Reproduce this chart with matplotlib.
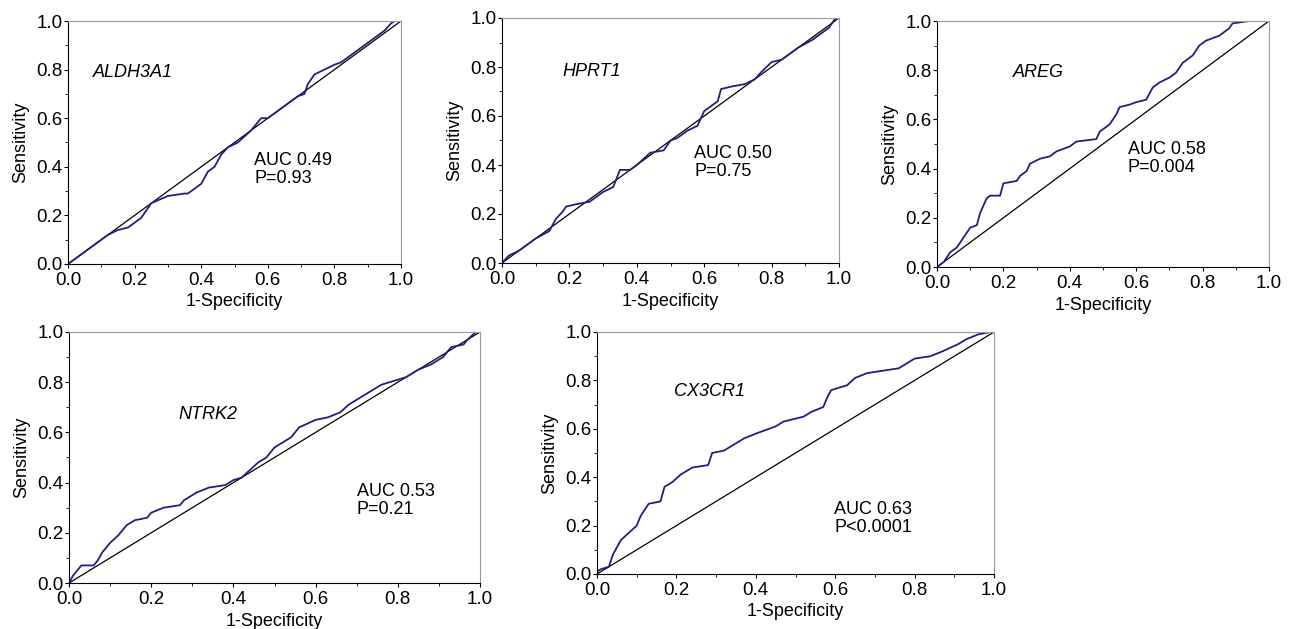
import matplotlib
matplotlib.use("Agg")
import matplotlib.pyplot as plt
from matplotlib.ticker import MultipleLocator

plt.rcParams['font.family'] = ['Liberation Sans', 'DejaVu Sans']

# ROC curves (1-specificity, sensitivity)
aldh_fpr = [0, 0.02, 0.05, 0.08, 0.1, 0.12, 0.15, 0.18, 0.2, 0.22, 0.25, 0.3, 0.35, 0.36, 0.38, 0.4,
            0.42, 0.44, 0.46, 0.48, 0.51, 0.55, 0.58, 0.6, 0.63, 0.66, 0.69, 0.71, 0.72, 0.74,
            0.77, 0.8, 0.82, 0.84, 0.87, 0.9, 0.93, 0.95, 0.97, 0.98, 1.0]
aldh_tpr = [0, 0.02, 0.05, 0.08, 0.1, 0.12, 0.14, 0.15, 0.17, 0.19, 0.25, 0.28, 0.29, 0.29, 0.31, 0.33,
            0.38, 0.40, 0.45, 0.48, 0.50, 0.55, 0.60, 0.60, 0.63, 0.66, 0.69, 0.70, 0.74, 0.78,
            0.80, 0.82, 0.83, 0.85, 0.88, 0.91, 0.94, 0.96, 0.99, 1.0, 1.0]

hprt_fpr = [0, 0.02, 0.05, 0.1, 0.14, 0.16, 0.18, 0.19, 0.22, 0.26, 0.3, 0.33, 0.35, 0.38, 0.4,
            0.44, 0.48, 0.5, 0.52, 0.55, 0.58, 0.6, 0.62, 0.64, 0.65, 0.68, 0.72, 0.75, 0.77,
            0.8, 0.83, 0.85, 0.88, 0.92, 0.95, 0.97, 0.99, 1.0]
hprt_tpr = [0, 0.03, 0.05, 0.1, 0.13, 0.18, 0.21, 0.23, 0.24, 0.25, 0.29, 0.31, 0.38, 0.38, 0.40,
            0.45, 0.46, 0.50, 0.51, 0.54, 0.56, 0.62, 0.64, 0.66, 0.71, 0.72, 0.73, 0.75, 0.78,
            0.82, 0.83, 0.85, 0.88, 0.91, 0.94, 0.96, 1.0, 1.0]

areg_fpr = [0, 0.02, 0.04, 0.06, 0.08, 0.1, 0.12, 0.13, 0.15, 0.16, 0.19, 0.2, 0.24, 0.25, 0.27,
            0.28, 0.31, 0.34, 0.36, 0.4, 0.42, 0.48, 0.49, 0.52, 0.54, 0.55, 0.58, 0.6, 0.63,
            0.65, 0.67, 0.7, 0.72, 0.74, 0.77, 0.79, 0.81, 0.85, 0.88, 0.89, 0.94, 1.0]
areg_tpr = [0, 0.02, 0.06, 0.08, 0.12, 0.16, 0.17, 0.22, 0.28, 0.29, 0.29, 0.34, 0.35, 0.37, 0.39,
            0.42, 0.44, 0.45, 0.47, 0.49, 0.51, 0.52, 0.55, 0.58, 0.62, 0.65, 0.66, 0.67, 0.68,
            0.73, 0.75, 0.77, 0.79, 0.83, 0.86, 0.90, 0.92, 0.94, 0.97, 0.99, 1.0, 1.0]

ntrk_fpr = [0, 0.01, 0.03, 0.06, 0.07, 0.08, 0.1, 0.12, 0.14, 0.16, 0.19, 0.2, 0.23, 0.27, 0.28,
            0.31, 0.34, 0.38, 0.4, 0.42, 0.44, 0.46, 0.48, 0.5, 0.54, 0.56, 0.6, 0.63, 0.66,
            0.68, 0.7, 0.73, 0.76, 0.8, 0.82, 0.85, 0.88, 0.91, 0.93, 0.96, 0.97, 0.99, 1.0]
ntrk_tpr = [0, 0.03, 0.07, 0.07, 0.09, 0.12, 0.16, 0.19, 0.23, 0.25, 0.26, 0.28, 0.30, 0.31, 0.33,
            0.36, 0.38, 0.39, 0.41, 0.42, 0.45, 0.48, 0.50, 0.54, 0.58, 0.62, 0.65, 0.66, 0.68,
            0.71, 0.73, 0.76, 0.79, 0.81, 0.82, 0.85, 0.87, 0.90, 0.94, 0.95, 0.97, 1.0, 1.0]

cx3_fpr = [0, 0.01, 0.03, 0.04, 0.05, 0.06, 0.08, 0.1, 0.11, 0.13, 0.16, 0.17, 0.19, 0.21, 0.24,
           0.28, 0.29, 0.32, 0.35, 0.37, 0.4, 0.45, 0.47, 0.52, 0.54, 0.57, 0.58, 0.59, 0.63,
           0.65, 0.68, 0.72, 0.76, 0.78, 0.8, 0.84, 0.87, 0.91, 0.93, 0.96, 0.99, 1.0]
cx3_tpr = [0.01, 0.02, 0.03, 0.08, 0.11, 0.14, 0.17, 0.20, 0.24, 0.29, 0.30, 0.36, 0.38, 0.41, 0.44,
           0.45, 0.50, 0.51, 0.54, 0.56, 0.58, 0.61, 0.63, 0.65, 0.67, 0.69, 0.73, 0.76, 0.78,
           0.81, 0.83, 0.84, 0.85, 0.87, 0.89, 0.90, 0.92, 0.95, 0.97, 0.99, 1.0, 1.0]

genes = ["ALDH3A1", "HPRT1", "AREG", "NTRK2", "CX3CR1"]
stats = ["AUC 0.49\nP=0.93", "AUC 0.50\nP=0.75", "AUC 0.58\nP=0.004",
         "AUC 0.53\nP=0.21", "AUC 0.63\nP<0.0001"]
curves = [(aldh_fpr, aldh_tpr), (hprt_fpr, hprt_tpr), (areg_fpr, areg_tpr),
          (ntrk_fpr, ntrk_tpr), (cx3_fpr, cx3_tpr)]

W, H = 1291, 629
# axes boxes in pixels: left, top, right, bottom
boxes = [(68, 21, 401, 264), (502, 18, 839, 263), (937, 21, 1269, 267),
         (69, 332, 480, 583), (597, 332, 994, 574)]
gene_pos = [(0.075, 0.79), (0.178, 0.78), (0.229, 0.79), (0.267, 0.67), (0.194, 0.755)]
stat_pos = [(0.56, 0.39), (0.57, 0.41), (0.575, 0.44), (0.70, 0.33), (0.597, 0.23)]

fig = plt.figure(figsize=(W / 100, H / 100), dpi=100)

for i in range(5):
    l, t, r, b = boxes[i]
    ax = fig.add_axes([l / W, 1 - b / H, (r - l) / W, (b - t) / H])
    fpr, tpr = curves[i]
    ax.plot([0, 1], [0, 1], color="black", lw=0.9)
    ax.plot(fpr, tpr, color="#20207e", lw=1.3)
    ax.set_xlim(0, 1)
    ax.set_ylim(0, 1)
    ax.xaxis.set_major_locator(MultipleLocator(0.2))
    ax.yaxis.set_major_locator(MultipleLocator(0.2))
    ax.xaxis.set_minor_locator(MultipleLocator(0.1))
    ax.yaxis.set_minor_locator(MultipleLocator(0.1))
    ax.xaxis.set_major_formatter(lambda v, p: f"{v:.1f}")
    ax.yaxis.set_major_formatter(lambda v, p: f"{v:.1f}")
    ax.tick_params(which="major", length=3, width=0.8, labelsize=13.5, pad=1)
    ax.tick_params(axis="x", which="major", pad=3)
    ax.tick_params(which="minor", length=2, width=0.6)
    ax.spines["top"].set_color("#9a9a9a")
    ax.spines["right"].set_color("#9a9a9a")
    ax.set_xlabel("1-Specificity", fontsize=13, labelpad=3)
    ax.set_ylabel("Sensitivity", fontsize=13, labelpad=5)
    ax.text(gene_pos[i][0], gene_pos[i][1], genes[i], style="italic", fontsize=13,
            ha="left", va="center")
    ax.text(stat_pos[i][0], stat_pos[i][1], stats[i], fontsize=13, ha="left", va="center",
            linespacing=1.1)

plt.savefig("out.png", dpi=100)
